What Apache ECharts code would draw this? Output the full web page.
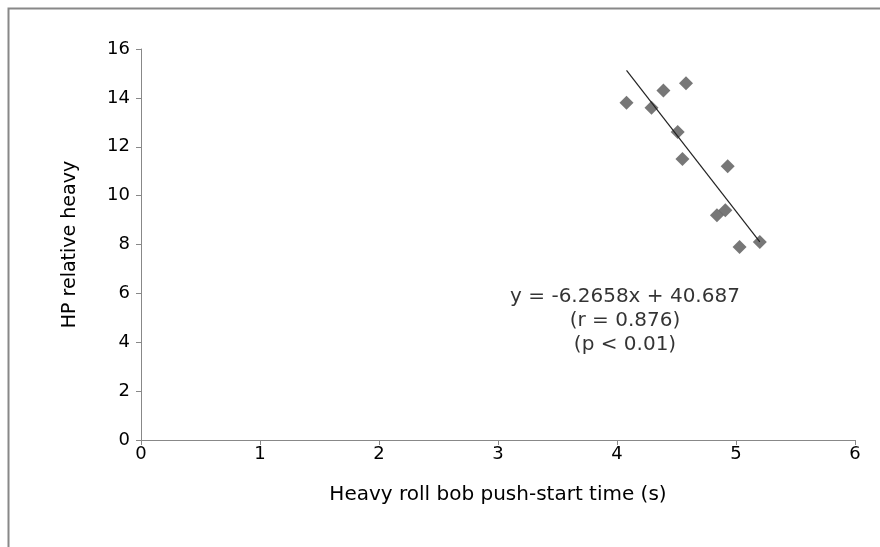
<!DOCTYPE html>
<html><head><meta charset="utf-8">
<script src="https://cdn.jsdelivr.net/npm/echarts@6/dist/echarts.min.js"></script>
<style>html,body{margin:0;padding:0;background:#fff}#c{width:880px;height:547px}</style>
</head><body><div id="c"></div>
<script>
const xValues = [4.08, 4.29, 4.39, 4.58, 4.51, 4.55, 4.93, 4.84, 4.91, 5.03, 5.20];
const yValues = [13.8, 13.6, 14.3, 14.6, 12.6, 11.5, 11.2, 9.2, 9.4, 7.9, 8.1];
const slope = -6.2658, intercept = 40.687;
const trendX = [4.08, 5.20];
const xTicks = [0, 1, 2, 3, 4, 5, 6];
const yTicks = [0, 2, 4, 6, 8, 10, 12, 14, 16];
const annotation = ['y = -6.2658x + 40.687', '(r = 0.876)', '(p < 0.01)'];

const pts = xValues.map((x, i) => [x, yValues[i]]);
const trend = trendX.map(x => [x, slope * x + intercept]);
const font = 'DejaVu Sans, sans-serif';

const chart = echarts.init(document.getElementById('c'), null, {renderer: 'canvas'});
chart.setOption({
  animation: false,
  backgroundColor: '#fff',
  grid: {left: 141, right: 25, top: 49, bottom: 107},
  xAxis: {
    type: 'value', min: 0, max: 6, interval: 1,
    name: 'Heavy roll bob push-start time (s)', nameLocation: 'middle', nameGap: 45,
    nameTextStyle: {fontFamily: font, fontSize: 20, color: '#000'},
    axisLine: {show: true, lineStyle: {color: '#888', width: 1}},
    axisTick: {show: true, length: 5, inside: false, lineStyle: {color: '#888'}},
    axisLabel: {fontFamily: font, fontSize: 18, color: '#000', margin: 5},
    splitLine: {show: false}
  },
  yAxis: {
    type: 'value', min: 0, max: 16, interval: 2,
    name: 'HP relative heavy', nameLocation: 'middle', nameGap: 61, nameRotate: 90,
    nameTextStyle: {fontFamily: font, fontSize: 19, color: '#000'},
    axisLine: {show: true, lineStyle: {color: '#888', width: 1}},
    axisTick: {show: true, length: 5, lineStyle: {color: '#888'}},
    axisLabel: {fontFamily: font, fontSize: 18, color: '#000', margin: 11},
    splitLine: {show: false}
  },
  graphic: [{
    type: 'rect', left: 6, top: 6, z: -1,
    shape: {width: 900, height: 600},
    style: {fill: 'none', stroke: '#888', lineWidth: 2}
  }],
  series: [{
    type: 'line', data: trend, symbol: 'none', silent: true,
    lineStyle: {color: '#222', width: 1.2}, z: 3
  }, {
    type: 'scatter', data: pts, symbol: 'diamond', symbolSize: 14,
    itemStyle: {color: '#555'}, z: 2
  }, {
    type: 'scatter', data: [[4, 6.1]], symbolSize: 0, silent: true,
    label: {
      show: true, position: 'inside', formatter: annotation.join('\n'),
      fontFamily: font, fontSize: 20, color: '#000', lineHeight: 24, align: 'center', offset: [8, 30]
    }
  }]
});
</script></body></html>
